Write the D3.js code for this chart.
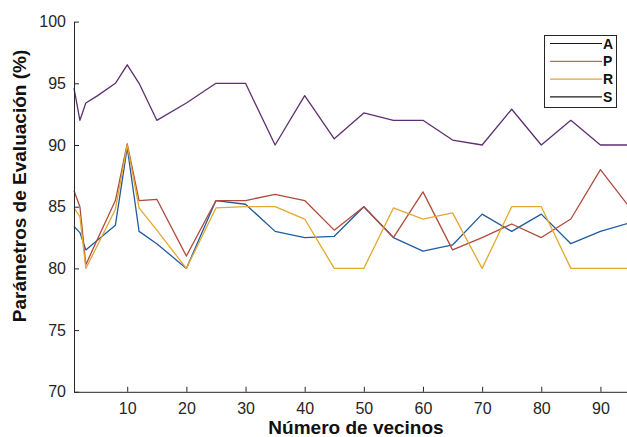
<!DOCTYPE html>
<html><head><meta charset="utf-8">
<script src="https://cdn.jsdelivr.net/npm/d3@7"></script>
<style>body{margin:0;background:#fff}svg{display:block;font-family:"Liberation Sans",Arial,sans-serif}</style>
</head><body>
<svg id="c" width="627" height="437"></svg>
<script>
const vecinos = [1,2,3,5,8,10,12,15,20,25,30,35,40,45,50,55,60,65,70,75,80,85,90,95];
const serieA = [83.4,82.9,81.5,82.3,83.5,89.8,83.0,82.0,80.0,85.5,85.2,83.0,82.5,82.6,85.0,82.5,81.4,81.9,84.4,83.0,84.4,82.0,83.0,83.7];
const serieP = [86.3,85.0,80.3,82.4,85.5,90.1,85.5,85.6,81.0,85.5,85.5,86.0,85.5,83.1,85.0,82.5,86.2,81.5,82.5,83.6,82.5,84.0,88.0,84.9];
const serieR = [84.9,84.2,80.0,81.9,84.8,90.0,84.9,83.1,80.0,84.9,85.0,85.0,84.0,80.0,80.0,84.9,84.0,84.5,80.0,85.0,85.0,80.0,80.0,80.0];
const serieS = [94.6,92.0,93.4,94.0,95.0,96.5,95.0,92.0,93.4,95.0,95.0,90.0,94.0,90.5,92.6,92.0,92.0,90.4,90.0,92.9,90.0,92.0,90.0,90.0];
const seriesNames = ["A","P","R","S"];
const lineColors = ["#1f5c9e","#b04a3a","#e2a92c","#5e2f72"];
const legendColors = ["#1a1a1a","#b86a66","#d9a83c","#1a1a1a"];
const xTicks = [10,20,30,40,50,60,70,80,90];
const yTicks = [70,75,80,85,90,95,100];

const svg = d3.select("#c");
const x = d3.scaleLinear().domain([1,95]).range([74,630]);
const y = d3.scaleLinear().domain([70,100]).range([391.8,21.6]);

const series = [serieA, serieP, serieR, serieS];
const line = d3.line().x((d,i)=>x(vecinos[i])).y(d=>y(d));
series.forEach((s,k)=>{
  svg.append("path").datum(s).attr("d",line).attr("fill","none")
    .attr("stroke",lineColors[k]).attr("stroke-width",1.3).attr("stroke-linejoin","round");
});

// axes
const xAxis = d3.axisBottom(x).tickValues(xTicks).tickSizeInner(-5).tickSizeOuter(0).tickPadding(11);
const gx = svg.append("g").attr("transform","translate(0,391.8)").call(xAxis);
const yAxis = d3.axisLeft(y).tickValues(yTicks).tickSizeInner(-5).tickSizeOuter(0).tickPadding(8);
const gy = svg.append("g").attr("transform","translate(74,0)").call(yAxis);
[gx,gy].forEach(g=>{
  g.select(".domain").attr("stroke","#262626").attr("stroke-width",1);
  g.selectAll(".tick line").attr("stroke","#262626");
  g.selectAll("text").attr("fill","#262626").style("font-size","16px").style("font-family","'Liberation Sans',Arial,sans-serif");
});

svg.append("text").attr("x",356).attr("y",434).attr("text-anchor","middle")
  .style("font-size","19px").style("font-weight","bold").attr("fill","#111").text("Número de vecinos");
svg.append("text").attr("transform","translate(26,186) rotate(-90)").attr("text-anchor","middle")
  .style("font-size","19px").style("font-weight","bold").attr("fill","#111").text("Parámetros de Evaluación (%)");

// legend
const lg = svg.append("g");
lg.append("rect").attr("x",544.5).attr("y",35.5).attr("width",72).attr("height",72)
  .attr("fill","#fff").attr("stroke","#262626").attr("stroke-width",1);
seriesNames.forEach((n,k)=>{
  const yy = 43.5 + k*17.8;
  lg.append("line").attr("x1",550).attr("x2",602).attr("y1",yy).attr("y2",yy)
    .attr("stroke",legendColors[k]).attr("stroke-width",1.2);
  lg.append("text").attr("x",603).attr("y",yy+5).style("font-size","14px").style("font-weight","bold")
    .attr("fill","#111").text(n);
});
</script>
</body></html>
